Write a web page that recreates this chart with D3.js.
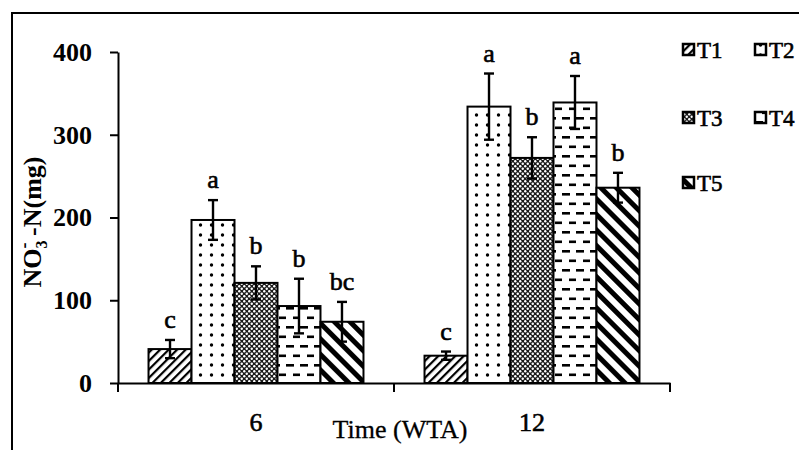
<!DOCTYPE html>
<html>
<head>
<meta charset="UTF-8">
<title>NO3-N by time</title>
<style>
  html, body { margin: 0; padding: 0; background: #fff; }
  svg { display: block; font-family: "Liberation Serif", "Times New Roman", serif; }
</style>
</head>
<body>
<svg width="799" height="450"></svg>
<script src="https://cdnjs.cloudflare.com/ajax/libs/d3/7.8.5/d3.min.js"></script>
<script>
// data
const times = ['6', '12'];
const treatments = ['T1', 'T2', 'T3', 'T4', 'T5'];
const meansW6 = [41, 197, 121, 93, 74];
const meansW12 = [33, 334, 272, 339, 236];
const errW6 = [11, 24, 20, 33, 24];
const errW12 = [5, 40, 25, 32, 18];
const lettersW6 = ['c', 'a', 'b', 'b', 'bc'];
const lettersW12 = ['c', 'a', 'b', 'a', 'b'];
const yTicks = [0, 100, 200, 300, 400];

const rows = [];
times.forEach((t, i) => {
  const m = i === 0 ? meansW6 : meansW12;
  const e = i === 0 ? errW6 : errW12;
  const l = i === 0 ? lettersW6 : lettersW12;
  treatments.forEach((k, j) => rows.push({ time: t, trt: k, value: m[j], err: e[j], letter: l[j] }));
});

const svg = d3.select('svg');
const defs = svg.append('defs');

// hatch patterns, one per treatment
function stripes(id, size, width, angle) {
  const p = defs.append('pattern').attr('id', id)
    .attr('patternUnits', 'userSpaceOnUse')
    .attr('width', size).attr('height', size)
    .attr('patternTransform', 'rotate(' + angle + ')');
  p.append('rect').attr('width', size).attr('height', size).attr('fill', '#fff');
  p.append('rect').attr('x', 0).attr('width', width).attr('height', size).attr('fill', '#000');
}
stripes('pT1', 6, 2.2, 45);
stripes('pT5', 11, 5, -45);

const p2 = defs.append('pattern').attr('id', 'pT2')
  .attr('patternUnits', 'userSpaceOnUse').attr('width', 11).attr('height', 10);
p2.append('rect').attr('width', 11).attr('height', 10).attr('fill', '#fff');
p2.append('circle').attr('cx', 5.5).attr('cy', 5).attr('r', 1.7).attr('fill', '#000');

const p3 = defs.append('pattern').attr('id', 'pT3')
  .attr('patternUnits', 'userSpaceOnUse').attr('width', 5).attr('height', 5);
p3.append('rect').attr('width', 5).attr('height', 5).attr('fill', '#1a1a1a');
p3.append('circle').attr('cx', 1.25).attr('cy', 1.25).attr('r', 1.2).attr('fill', '#fff');
p3.append('circle').attr('cx', 3.75).attr('cy', 3.75).attr('r', 1.2).attr('fill', '#fff');

const p4 = defs.append('pattern').attr('id', 'pT4')
  .attr('patternUnits', 'userSpaceOnUse').attr('width', 14).attr('height', 19);
p4.append('rect').attr('width', 14).attr('height', 19).attr('fill', '#fff');
p4.append('rect').attr('x', 0).attr('y', 3).attr('width', 8).attr('height', 2.6).attr('fill', '#000');
p4.append('rect').attr('x', 7).attr('y', 12.5).attr('width', 7).attr('height', 2.6).attr('fill', '#000');

const fillOf = d3.scaleOrdinal().domain(treatments)
  .range(treatments.map(t => 'url(#p' + t + ')'));

// outer frame of the scan
svg.append('path')
  .attr('d', 'M12,450 V13 H799')
  .attr('fill', 'none').attr('stroke', '#000').attr('stroke-width', 2);

const x0 = d3.scaleBand().domain(times).range([118, 670]).padding(0);
const x1 = d3.scaleBand().domain(treatments).range([0, x0.bandwidth()]).paddingInner(0).paddingOuter(0.71);
const y = d3.scaleLinear().domain([0, 400]).range([383, 52]);

// bars
const groups = svg.append('g').selectAll('g')
  .data(times).join('g')
  .attr('transform', d => 'translate(' + x0(d) + ',0)');

groups.selectAll('rect')
  .data(t => rows.filter(r => r.time === t))
  .join('rect')
  .attr('x', d => x1(d.trt))
  .attr('y', d => y(d.value))
  .attr('width', x1.bandwidth())
  .attr('height', d => y(0) - y(d.value))
  .attr('fill', d => fillOf(d.trt))
  .attr('stroke', '#000')
  .attr('stroke-width', 2);

// error bars
const eb = groups.selectAll('g.err')
  .data(t => rows.filter(r => r.time === t))
  .join('g').attr('class', 'err')
  .attr('stroke', '#000').attr('stroke-width', 2.4);
eb.append('line')
  .attr('x1', d => x1(d.trt) + x1.bandwidth() / 2)
  .attr('x2', d => x1(d.trt) + x1.bandwidth() / 2)
  .attr('y1', d => y(d.value + d.err))
  .attr('y2', d => y(d.value - d.err));
eb.append('line')
  .attr('x1', d => x1(d.trt) + x1.bandwidth() / 2 - 5)
  .attr('x2', d => x1(d.trt) + x1.bandwidth() / 2 + 5)
  .attr('y1', d => y(d.value + d.err))
  .attr('y2', d => y(d.value + d.err));
eb.append('line')
  .attr('x1', d => x1(d.trt) + x1.bandwidth() / 2 - 5)
  .attr('x2', d => x1(d.trt) + x1.bandwidth() / 2 + 5)
  .attr('y1', d => y(d.value - d.err))
  .attr('y2', d => y(d.value - d.err));

// significance letters
groups.selectAll('text.sig')
  .data(t => rows.filter(r => r.time === t))
  .join('text').attr('class', 'sig')
  .attr('x', d => x1(d.trt) + x1.bandwidth() / 2)
  .attr('y', d => y(d.value + d.err) - 12)
  .attr('text-anchor', 'middle')
  .attr('font-size', 26)
  .attr('stroke', '#000').attr('stroke-width', 0.6)
  .text(d => d.letter);

// y axis
const yAxis = svg.append('g')
  .attr('transform', 'translate(118,0)')
  .call(d3.axisLeft(y).tickValues(yTicks).tickSize(8).tickPadding(18).tickSizeOuter(0));
yAxis.select('.domain').attr('stroke-width', 2);
yAxis.selectAll('.tick line').attr('stroke-width', 2);
yAxis.selectAll('.tick text')
  .attr('font-size', 26).attr('font-weight', 'bold')
  .attr('font-family', '"Liberation Serif", serif');

// x axis: labels in band centres, ticks at band edges
const xAxis = svg.append('g')
  .attr('transform', 'translate(0,383)')
  .call(d3.axisBottom(x0).tickSize(0).tickPadding(30).tickSizeOuter(0));
xAxis.select('.domain').attr('stroke-width', 2);
xAxis.selectAll('.tick text')
  .attr('font-size', 26)
  .attr('stroke', '#000').attr('stroke-width', 0.6)
  .attr('font-family', '"Liberation Serif", serif');
const edges = [x0.range()[0]].concat(times.map(t => x0(t) + x0.bandwidth()));
xAxis.selectAll('line.edge')
  .data(edges).join('line').attr('class', 'edge')
  .attr('x1', d => d).attr('x2', d => d)
  .attr('y1', 0).attr('y2', 9)
  .attr('stroke', '#000').attr('stroke-width', 2);

svg.append('text')
  .attr('x', 400).attr('y', 438)
  .attr('text-anchor', 'middle')
  .attr('font-size', 26)
  .attr('stroke', '#000').attr('stroke-width', 0.3)
  .text('Time (WTA)');

// y title with NO3- subscript / superscript
const yt = svg.append('text')
  .attr('transform', 'translate(41,222) rotate(-90)')
  .attr('text-anchor', 'middle')
  .attr('font-size', 26).attr('font-weight', 'bold');
yt.append('tspan').text('NO');
yt.append('tspan').attr('font-size', 16).attr('dy', 6).text('3');
yt.append('tspan').attr('font-size', 18).attr('dx', -8).attr('dy', -17).text('-');
yt.append('tspan').attr('dy', 11).text(' -N(mg)');

// legend
const legendPos = [[683, 50], [755, 50], [683, 118], [755, 118], [683, 183]];
const lg = svg.append('g').selectAll('g')
  .data(treatments).join('g')
  .attr('transform', (d, i) => 'translate(' + legendPos[i][0] + ',' + legendPos[i][1] + ')');
lg.append('rect')
  .attr('x', 0).attr('y', -6).attr('width', 11).attr('height', 11)
  .attr('fill', d => fillOf(d)).attr('stroke', '#000').attr('stroke-width', 2.5);
lg.append('text')
  .attr('x', 14).attr('y', 8)
  .attr('font-size', 23)
  .attr('stroke', '#000').attr('stroke-width', 0.6)
  .text(d => d);
</script>
</body>
</html>
